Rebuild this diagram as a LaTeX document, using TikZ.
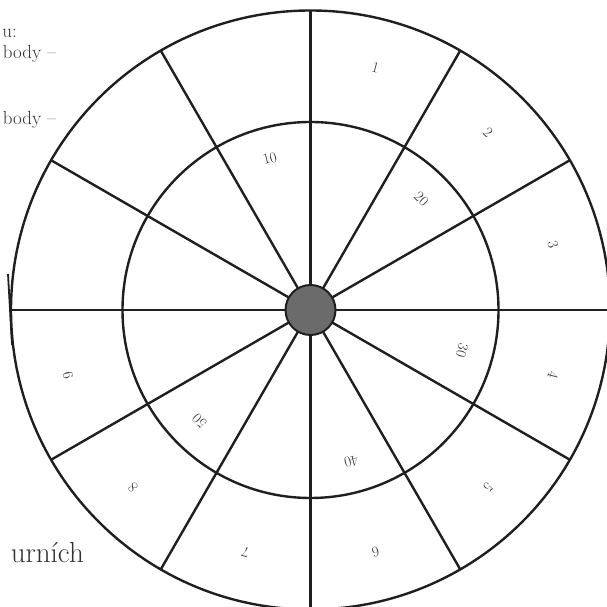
\documentclass[tikz,border=0pt]{standalone}
\usepackage{fontspec}
\begin{document}
\begin{tikzpicture}[x=1pt,y=1pt,
  ln/.style={draw=black!88, line width=2.4pt},
  ring/.style={circle, ln, inner sep=0pt, outer sep=0pt},
  num/.style={font=\fontsize{15}{17}\selectfont, text=black!80, inner sep=0pt},
  lbl/.style={font=\fontsize{19}{22}\selectfont, text=black!80, inner sep=0pt}]
\useasboundingbox (0,0) rectangle (607,607);
\coordinate (c) at (310.5,297);
\node[ring, minimum size=599pt] (outer) at (c) {};
\node[ring, minimum size=376pt] (inner) at (c) {};
\foreach \a in {0,30,...,330} \draw[ln] (c) -- (outer.\a);
\node[ring, minimum size=50pt, fill=black!58, line width=2pt] (hub) at (c) {};
\foreach \t/\a in {1/75,2/45,3/15,4/-15,5/-45,6/-75,7/-105,8/-135,9/-165}
  \node[num, rotate=\a-90] (o\t) at ([shift={(\a:251)}]c) {\t};
\foreach \t/\a in {10/105,20/45,30/-15,40/-75,50/-135}
  \node[num, rotate=\a-90] (i\t) at ([shift={(\a:157)}]c) {\t};
\node[lbl, anchor=base east] (t1) at (17,569) {u:};
\node[lbl, anchor=base east] (t2) at (56,548) {body –};
\node[lbl, anchor=base east] (t3) at (56,482) {body –};
\node[lbl, font=\fontsize{29}{33}\selectfont, anchor=base east] (t4) at (84,44) {urních};
\draw[ln, line width=1.8pt] (8,333) -- (12,262);
\end{tikzpicture}
\end{document}
